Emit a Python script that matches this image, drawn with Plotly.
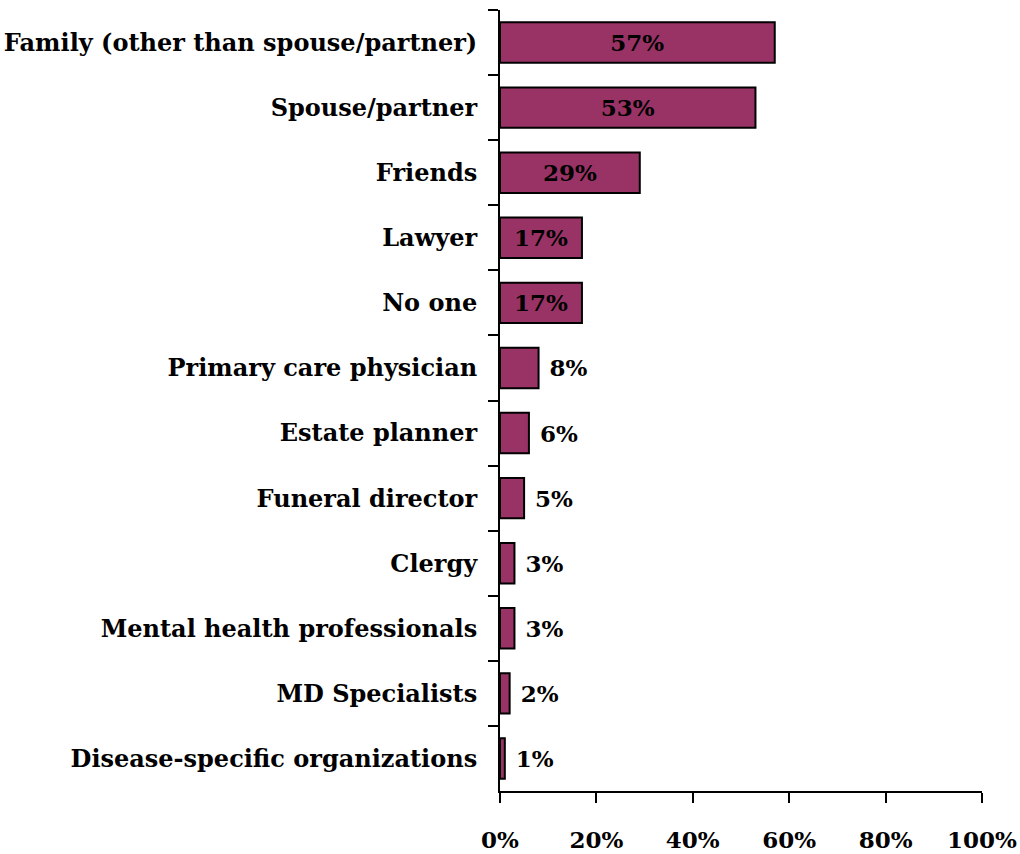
import plotly.graph_objects as go

# Who respondents talked to, share of respondents (%)
categories = [
    "Family (other than spouse/partner)",
    "Spouse/partner",
    "Friends",
    "Lawyer",
    "No one",
    "Primary care physician",
    "Estate planner",
    "Funeral director",
    "Clergy",
    "Mental health professionals",
    "MD Specialists",
    "Disease-specific organizations",
]
values = [57, 53, 29, 17, 17, 8, 6, 5, 3, 3, 2, 1]
x_ticks = [0, 20, 40, 60, 80, 100]

FONT = "DejaVu Serif, serif"
BAR_COLOR = "#993366"

# Larger values carry the label inside the bar, small ones beside it
positions = ["inside" if v >= 15 else "outside" for v in values]
labels = [f"{v}%" if v >= 15 else f"\u00a0{v}%" for v in values]

fig = go.Figure(
    go.Bar(
        x=values,
        y=categories,
        orientation="h",
        marker=dict(color=BAR_COLOR, line=dict(color="black", width=2)),
        width=0.62,
        text=labels,
        textposition=positions,
        insidetextanchor="middle",
        textfont=dict(family=FONT, size=23, color="black", weight="bold"),
        cliponaxis=False,
        hoverinfo="skip",
    )
)

fig.update_layout(
    width=1020,
    height=854,
    margin=dict(l=500, r=38, t=10, b=63),
    paper_bgcolor="white",
    plot_bgcolor="white",
    showlegend=False,
    font=dict(family=FONT, size=23, color="black", weight="bold"),
)

fig.update_xaxes(
    range=[0, 100],
    tickvals=x_ticks,
    ticktext=[f"{t}%" for t in x_ticks],
    ticks="outside",
    ticklen=10,
    tickwidth=2,
    tickcolor="black",
    showline=True,
    linecolor="black",
    linewidth=2,
    showgrid=False,
    zeroline=False,
    automargin=False,
    ticklabelstandoff=17,
    tickfont=dict(family=FONT, size=23, color="black", weight="bold"),
)

fig.update_yaxes(
    type="category",
    categoryorder="array",
    categoryarray=categories,
    range=[len(categories) - 0.5, -0.5],
    tickson="boundaries",
    ticks="outside",
    ticklen=10,
    tickwidth=2,
    tickcolor="black",
    showline=True,
    linecolor="black",
    linewidth=2,
    showgrid=False,
    zeroline=False,
    automargin=False,
    ticklabelstandoff=16,
    tickfont=dict(family=FONT, size=24, color="black", weight="bold"),
)

fig.write_html("out.html")
